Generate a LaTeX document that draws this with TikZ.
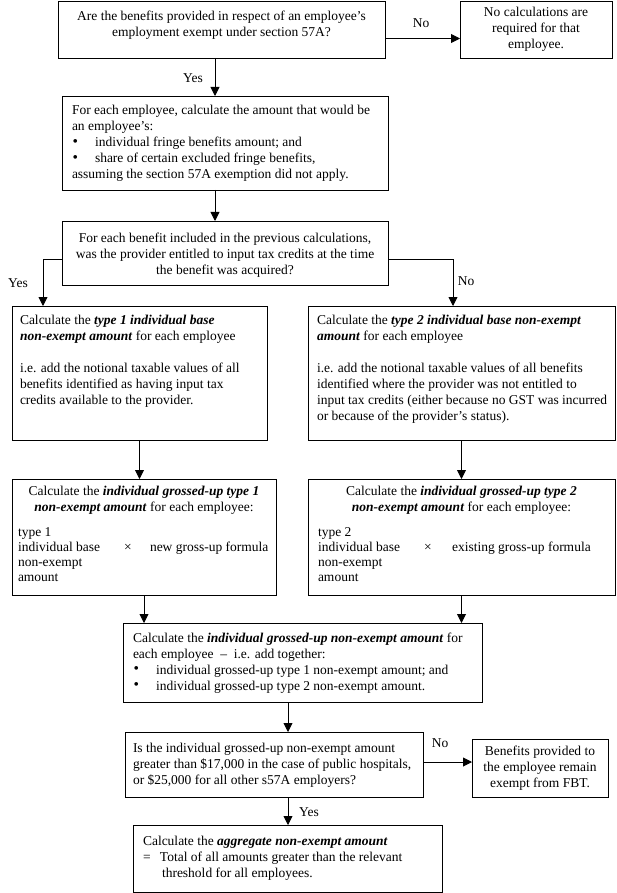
\documentclass[tikz,border=0pt]{standalone}
\usepackage{fontspec}
\setmainfont{Liberation Serif}
\usetikzlibrary{arrows.meta}
\newcommand\bi[1]{\textbf{\textit{#1}}}
\newcommand\fstr{\rule{0pt}{10pt}}
\newcommand\bul{\makebox[23pt][l]{\hspace*{0.5pt}\raisebox{0.5pt}{\scalebox{1.15}{\textbullet}}}}
\begin{document}
\begin{tikzpicture}[x=1pt,y=-1pt,
  box/.style={draw, line width=0.9pt, inner sep=0pt, outer sep=0pt},
  txt/.style={inner sep=0pt, outer sep=0pt, font=\fontsize{13.5}{16}\selectfont, anchor=north west, align=left},
  ctxt/.style={txt, anchor=north, align=center},
  lab/.style={inner sep=0pt, font=\fontsize{13.5}{16}\selectfont},
  arr/.style={line width=0.9pt, -{Triangle[length=9pt,width=9pt]}},
  ln/.style={line width=0.9pt}]
\useasboundingbox (0,0) rectangle (616,893);
% boxes
\node[box, minimum width=327, minimum height=57] (A) at (221.5,29.5) {};
\node[box, minimum width=152, minimum height=57] (B) at (536,29.5) {};
\node[box, minimum width=326, minimum height=94] (C) at (225,143) {};
\node[box, minimum width=326, minimum height=64] (D) at (225,253) {};
\node[box, minimum width=255, minimum height=134] (E) at (139.5,373) {};
\node[box, minimum width=307, minimum height=134] (F) at (461.5,373) {};
\node[box, minimum width=264, minimum height=116] (G) at (144,537) {};
\node[box, minimum width=307, minimum height=116] (H) at (461.5,537) {};
\node[box, minimum width=359, minimum height=79] (I) at (302.5,662.5) {};
\node[box, minimum width=298, minimum height=65] (J) at (274,764.5) {};
\node[box, minimum width=136, minimum height=58] (K) at (540,768) {};
\node[box, minimum width=309, minimum height=67] (L) at (287.5,858.5) {};
% texts
\node[ctxt] (At) at (221.5,11) {\fstr Are the benefits provided in respect of an employee’s\\ employment exempt under section 57A?};
\node[ctxt] (Bt) at (536,7) {\fstr No calculations are\\ required for that\\ employee.};
\node[txt] (Ct) at (72,105) {\fstr For each employee, calculate the amount that would be\\ an employee’s:\\ \bul individual fringe benefits amount; and\\ \bul share of certain excluded fringe benefits,\\ assuming the section 57A exemption did not apply.};
\node[ctxt] (Dt) at (225,232) {\fstr For each benefit included in the previous calculations,\\ was the provider entitled to input tax credits at the time\\ the benefit was acquired?};
\node[txt] (Et) at (20,314) {\fstr Calculate the \bi{type 1 individual base}\\ \bi{non-exempt amount} for each employee\\[16pt] i.e. add the notional taxable values of all\\ benefits identified as having input tax\\ credits available to the provider.};
\node[txt] (Ft) at (317,314) {\fstr Calculate the \bi{type 2 individual base non-exempt}\\ \bi{amount} for each employee\\[16pt] i.e. add the notional taxable values of all benefits\\ identified where the provider was not entitled to\\ input tax credits (either because no GST was incurred\\ or because of the provider’s status).};
\node[ctxt] (Gt) at (144,485) {\fstr Calculate the \bi{individual grossed-up type 1}\\ \bi{non-exempt amount} for each employee:};
\node[txt, font=\fontsize{13.5}{15}\selectfont] (Gf) at (18,526) {\fstr type 1\\ \makebox[106pt][l]{individual base}\makebox[26pt][l]{×}new gross-up formula\\ non-exempt\\ amount};
\node[ctxt] (Ht) at (461.5,485) {\fstr Calculate the \bi{individual grossed-up type 2}\\ \bi{non-exempt amount} for each employee:};
\node[txt, font=\fontsize{13.5}{15}\selectfont] (Hf) at (318,526) {\fstr type 2\\ \makebox[106pt][l]{individual base}\makebox[28pt][l]{×}existing gross-up formula\\ non-exempt\\ amount};
\node[txt] (It) at (133,632) {\fstr Calculate the \bi{individual grossed-up non-exempt amount} for\\ each employee \ – \ i.e. add together:\\ \bul individual grossed-up type 1 non-exempt amount; and\\ \bul individual grossed-up type 2 non-exempt amount.};
\node[txt] (Jt) at (133,742) {\fstr Is the individual grossed-up non-exempt amount\\ greater than \$17,000 in the case of public hospitals,\\ or \$25,000 for all other s57A employers?};
\node[ctxt] (Kt) at (540,745) {\fstr Benefits provided to\\ the employee remain\\ exempt from FBT.};
\node[txt] (Lt) at (143,835) {\fstr Calculate the \bi{aggregate non-exempt amount}\\ \makebox[17pt][l]{=}Total of all amounts greater than the relevant\\ \hspace*{19pt}threshold for all employees.};
% connectors
\draw[arr] ([yshift=-9pt]A.east) -- ([yshift=-9pt]B.west);
\draw[arr] ([xshift=-6.5pt]A.south) -- ([xshift=-6.5pt]A.south |- C.north);
\draw[arr] ([xshift=-10pt]C.south) -- ([xshift=-10pt]C.south |- D.north);
\draw[arr] ([yshift=-6pt]D.west) -| ([xshift=31pt]E.north west);
\draw[arr] ([yshift=-6pt]D.east) -| ([xshift=145pt]F.north west);
\draw[arr] (E.south) -- (E.south |- G.north);
\draw[arr] (F.south) -- (F.south |- H.north);
\draw[arr] (G.south) -- (G.south |- I.north);
\draw[arr] (H.south) -- (H.south |- I.north);
\draw[arr] ([xshift=-14.5pt]I.south) -- ([xshift=-14.5pt]I.south |- J.north);
\draw[arr] ([yshift=2.5pt]J.east) -- ([yshift=2.5pt]J.east -| K.west);
\draw[arr] ([xshift=14pt]J.south) -- ([xshift=14pt]J.south |- L.north);
% labels
\node[lab] (l1) at (421,23) {No};
\node[lab] (l2) at (193,78) {Yes};
\node[lab] (l3) at (18,283) {Yes};
\node[lab] (l4) at (466,281) {No};
\node[lab] (l5) at (440,743) {No};
\node[lab] (l6) at (309,812) {Yes};
\end{tikzpicture}
\end{document}
